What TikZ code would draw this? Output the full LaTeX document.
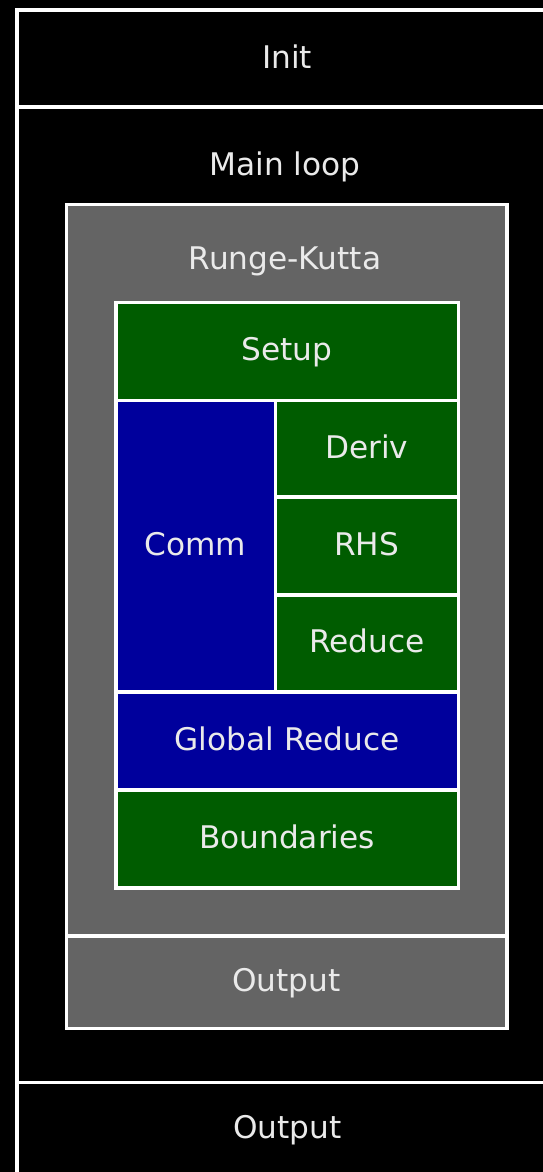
\documentclass[tikz,border=0pt]{standalone}
\usepackage{fontspec}
\setmainfont{DejaVu Sans}

\newlength{\du}
\setlength{\du}{1pt}

\definecolor{loopgray}{RGB}{100,100,100}
\definecolor{kernelgreen}{RGB}{0,92,0}
\definecolor{commblue}{RGB}{0,0,156}
\definecolor{labelcolor}{RGB}{234,234,234}

\tikzset{
  stage/.style={rectangle, draw=white, line width=3.5\du, anchor=north west,
    inner sep=0pt, text=labelcolor, font=\fontsize{31.2}{36}\selectfont,
    text height=19\du, text depth=0pt},
  title/.style={anchor=base, inner sep=0pt, text=labelcolor,
    font=\fontsize{31.2}{36}\selectfont},
}

\begin{document}
\begin{tikzpicture}[x=1\du,y=-1\du]
\fill[black] (0,0) rectangle (543,1172);
\clip (0,0) rectangle (543,1172);
% outer program
\node[stage, fill=black, minimum width=541\du, minimum height=96.5\du] (init) at (15,8.5) {Init};
\node[stage, fill=black, minimum width=541\du, minimum height=975.5\du] (mainloop) at (15,105) {};
\node[title] (mainlooplabel) at (285,175) {Main loop};
\node[stage, fill=black, minimum width=541\du, minimum height=93\du] (finaloutput) at (15,1080.5) {Output};
% time stepping
\node[stage, fill=loopgray, minimum width=440.5\du, minimum height=731.5\du] (rk) at (64.5,202.5) {};
\node[title] (rklabel) at (285,269) {Runge-Kutta};
\node[stage, fill=loopgray, minimum width=440.5\du, minimum height=92.5\du] (stepoutput) at (64.5,934) {Output};
% kernels
\node[stage, fill=kernelgreen, minimum width=342.5\du, minimum height=98\du] (setup) at (114,300.5) {Setup};
\node[stage, fill=commblue, minimum width=159.5\du, minimum height=291.5\du] (comm) at (114,398.5) {Comm};
\node[stage, fill=kernelgreen, minimum width=183\du, minimum height=96.5\du] (deriv) at (273.5,398.5) {Deriv};
\node[stage, fill=kernelgreen, minimum width=183\du, minimum height=98\du] (rhs) at (273.5,495) {RHS};
\node[stage, fill=kernelgreen, minimum width=183\du, minimum height=97\du] (reduce) at (273.5,593) {Reduce};
\node[stage, fill=commblue, minimum width=342.5\du, minimum height=98\du] (globalreduce) at (114,690) {Global Reduce};
\node[stage, fill=kernelgreen, minimum width=342.5\du, minimum height=98\du] (boundaries) at (114,788) {Boundaries};
\end{tikzpicture}
\end{document}
